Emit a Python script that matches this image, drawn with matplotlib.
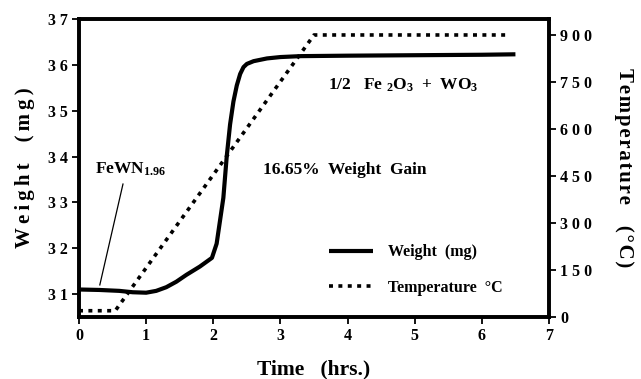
import matplotlib
matplotlib.use("Agg")
from matplotlib import pyplot as plt

plt.rcParams['font.family'] = ['Liberation Serif', 'DejaVu Serif']
plt.rcParams['font.weight'] = 'bold'
plt.rcParams['axes.labelweight'] = 'bold'
plt.rcParams['mathtext.fontset'] = 'custom'
plt.rcParams['mathtext.rm'] = 'Liberation Serif:bold'
plt.rcParams['mathtext.bf'] = 'Liberation Serif:bold'
plt.rcParams['mathtext.it'] = 'Liberation Serif:bold:italic'

# weight trace (hrs, mg)
weight_t = [0, 0.3, 0.6, 0.8, 1.0, 1.15, 1.3, 1.45, 1.6, 1.8, 1.98,
            2.05, 2.1, 2.15, 2.2, 2.25, 2.3, 2.35, 2.4, 2.45, 2.5,
            2.6, 2.8, 3.0, 3.3, 4.0, 5.0, 6.0, 6.5]
weight = [31.1, 31.09, 31.07, 31.04, 31.03, 31.07, 31.15, 31.27, 31.42, 31.6, 31.79,
          32.1, 32.6, 33.1, 34.0, 34.7, 35.2, 35.55, 35.8, 35.95, 36.02,
          36.08, 36.14, 36.17, 36.19, 36.2, 36.21, 36.22, 36.23]

# temperature program (hrs, C)
temp_t = [0, 0.54, 3.5, 6.4]
temp = [20, 20, 900, 900]

w_ticks = [31, 32, 33, 34, 35, 36, 37]
w_labels = ['3 1', '3 2', '3 3', '3 4', '3 5', '3 6', '3 7']
t_ticks = [0, 150, 300, 450, 600, 750, 900]
t_labels = ['0', '1 5 0', '3 0 0', '4 5 0', '6 0 0', '7 5 0', '9 0 0']
x_ticks = [0, 1, 2, 3, 4, 5, 6, 7]


def spread(word, sep='\u2009'):
    # the original labels are letter-spaced
    return sep.join(word)


fig = plt.figure(figsize=(6.41, 3.79), dpi=100)
ax = fig.add_axes([79/641, 1-317/379, 470/641, 298/379])
ax2 = ax.twinx()

l1, = ax.plot(weight_t, weight, color='black', lw=3.0, solid_capstyle='butt',
              label='Weight  (mg)')
l2, = ax2.plot(temp_t, temp, color='black', lw=2.6, linestyle=(0, (1.1, 1.5)),
               dash_capstyle='butt', label='Temperature  \u00b0C')

ax.set_xlim(0, 7)
ax.set_ylim(30.5, 37)
ax2.set_ylim(0, 951)

ax.set_xticks(x_ticks)
ax.set_xticklabels([str(x) for x in x_ticks], fontsize=11.5, fontweight='bold')
ax.set_yticks(w_ticks)
ax.set_yticklabels(w_labels, fontsize=11.5, fontweight='bold')
ax2.set_yticks(t_ticks)
ax2.set_yticklabels(t_labels, fontsize=11.5, fontweight='bold')

for a in (ax, ax2):
    for s in a.spines.values():
        s.set_linewidth(2.6)
    a.tick_params(width=1.3, length=5, pad=3)

ax.set_xlabel('Time   (hrs.)', fontsize=15.5, labelpad=11)
ax.set_ylabel(spread('Weight') + '    ' + spread('(mg)'), fontsize=15, labelpad=9)
ax2.set_ylabel(spread('Temperature', '\u200a') + '    ' + spread('(\u00b0C)', '\u200a'),
               fontsize=15, rotation=-90, labelpad=30)

ax.text(0.24, 33.63, r'FeWN$_{1.96}$', fontsize=12.5, va='baseline')
ax.plot([0.655, 0.31], [33.4, 31.2], color='black', lw=0.9)
ax.text(2.74, 33.63, '16.65%  Weight  Gain', fontsize=12.5, va='baseline')
ax.text(3.71, 35.45, r'1/2   Fe $_2$O$_3$  +  WO$_3$', fontsize=12.5, va='baseline')

ax.legend(handles=[l1, l2], loc='lower left', bbox_to_anchor=(0.515, 0.045),
          frameon=False, prop={'size': 11.5, 'weight': 'bold'},
          handlelength=2.75, handletextpad=0.95, labelspacing=1.2, borderpad=0)

fig.savefig('out.png', dpi=100)
